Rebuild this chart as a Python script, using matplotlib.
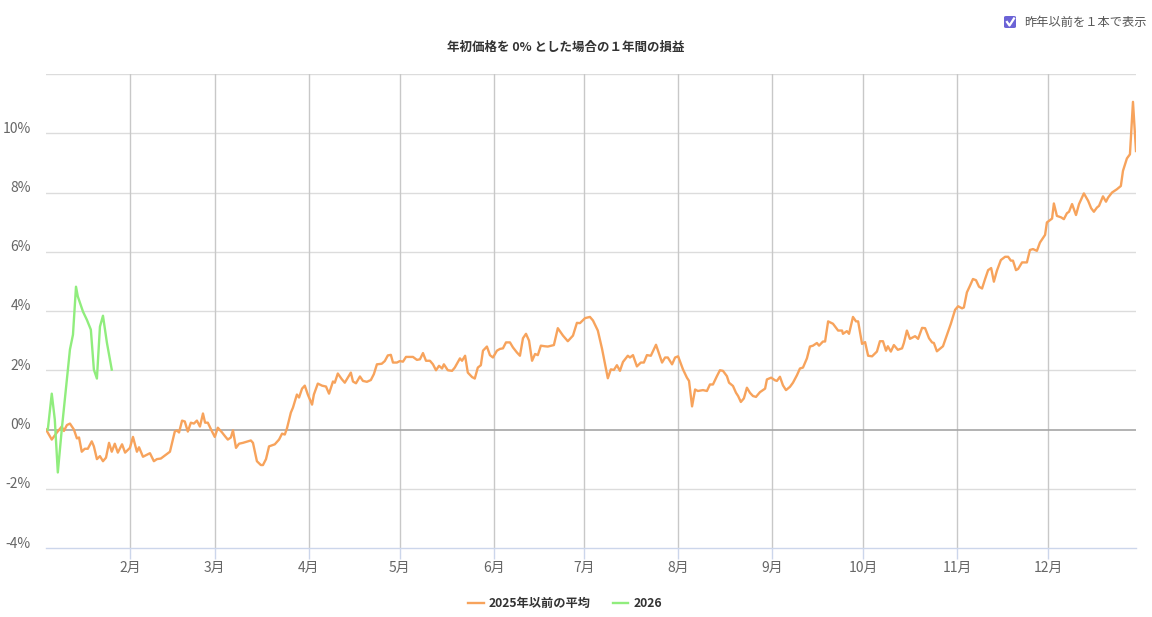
import numpy as np
import matplotlib.pyplot as plt
from matplotlib.lines import Line2D
from matplotlib.patches import FancyBboxPatch
import matplotlib.transforms as mtransforms

plt.rcParams['font.family'] = ['Noto Sans CJK JP', 'DejaVu Sans']

# day of year (Jan 1 = 0) and gain in %
avg_days = [3.3, 5.2, 6.9, 8.5, 9.2, 10.2, 11.2, 12.5, 13.5, 14.2, 15.1, 16.1, 17.1, 18.4, 19.1,
            20.1, 21.1, 22.1, 23.1, 24.1, 25.0, 26.0, 27.0, 28.4, 29.4, 31.0, 32.0, 33.3, 34.0, 35.3,
            36.6, 37.6, 38.9, 39.9, 41.2, 42.9, 44.2, 45.8, 46.5, 47.2, 48.2, 49.1, 50.1, 51.1, 52.1,
            53.1, 54.1, 55.1, 55.8, 56.7, 58.1, 59.0, 60.0, 61.4, 62.4, 63.3, 64.3, 65.0, 66.0, 67.0,
            68.3, 70.9, 71.6, 72.9, 74.2, 74.9, 75.9, 76.9, 78.8, 80.2, 81.2, 82.1, 82.8, 84.1, 84.8,
            86.1, 86.8, 87.8, 88.7, 89.7, 91.1, 91.7, 93.0, 94.4, 95.7, 96.7, 98.0, 98.6, 99.6, 100.9,
            101.9, 103.9, 104.6, 105.6, 106.9, 107.9, 109.2, 110.5, 111.5, 112.5, 114.1, 115.1, 116.1,
            117.1, 117.8, 119.1, 120.1, 121.1, 122.1, 124.4, 125.7, 126.7, 127.7, 128.7, 130.0, 131.0,
            132.0, 133.0, 134.0, 134.6, 135.9, 137.3, 138.2, 139.9, 140.6, 141.6, 142.5, 143.9, 144.8,
            145.8, 146.8, 147.5, 148.8, 149.8, 150.8, 152.1, 153.1, 154.1, 155.1, 156.4, 157.4, 158.7,
            159.7, 160.7, 161.7, 162.7, 163.7, 164.7, 165.6, 166.6, 167.9, 168.9, 170.9, 172.2, 173.9,
            175.5, 177.2, 178.5, 179.5, 181.2, 182.8, 183.8, 185.4, 186.8, 188.7, 189.7, 190.7, 191.7,
            192.7, 193.7, 195.3, 196.0, 197.0, 198.3, 199.6, 200.6, 201.6, 202.9, 204.6, 206.6, 207.6,
            208.5, 209.9, 210.9, 211.9, 213.5, 214.8, 215.5, 216.5, 217.5, 218.4, 220.1, 221.4, 222.4,
            223.4, 224.7, 225.7, 226.7, 228.0, 228.7, 230.0, 231.0, 231.7, 232.6, 233.6, 234.6, 235.6,
            236.6, 237.6, 238.9, 240.6, 241.2, 242.6, 243.9, 244.5, 245.5, 246.5, 247.5, 248.8, 249.8,
            251.1, 252.1, 253.1, 254.4, 255.4, 256.4, 257.7, 258.4, 259.7, 260.4, 261.4, 263.0, 264.7,
            266.0, 266.3, 267.6, 268.3, 269.6, 270.6, 271.3, 272.6, 273.6, 274.6, 275.9, 277.5, 278.5,
            279.5, 280.5, 281.1, 282.1, 283.1, 284.4, 285.8, 286.4, 287.4, 288.4, 290.1, 291.1, 292.4,
            293.4, 294.7, 295.7, 296.3, 297.3, 299.3, 300.6, 301.9, 303.3, 304.3, 305.6, 306.2, 307.2,
            308.2, 309.2, 310.2, 311.2, 312.2, 313.2, 314.2, 315.2, 316.1, 317.1, 318.4, 319.8, 320.8,
            321.7, 322.4, 323.4, 324.1, 325.4, 327.0, 328.0, 329.0, 330.3, 331.3, 333.0, 333.6, 335.3,
            335.9, 336.9, 338.3, 339.2, 340.2, 340.9, 341.9, 343.2, 344.2, 345.8, 347.2, 348.2, 349.1,
            350.1, 350.8, 352.1, 353.1, 353.8, 355.1, 356.7, 358.0, 358.7, 360.0, 361.0, 362.0, 363.0]
avg_vals = [0.0, -0.34, -0.1, 0.1, -0.05, 0.15, 0.2, 0.0, -0.3, -0.27, -0.75, -0.65, -0.65, -0.4, -0.57,
            -1.0, -0.9, -1.07, -0.95, -0.45, -0.75, -0.48, -0.78, -0.5, -0.78, -0.62, -0.25, -0.75, -0.6, -0.92,
            -0.85, -0.8, -1.07, -1.0, -0.98, -0.85, -0.75, -0.07, -0.03, -0.1, 0.3, 0.27, -0.07, 0.23, 0.2,
            0.3, 0.1, 0.54, 0.23, 0.23, -0.07, -0.25, 0.06, -0.1, -0.23, -0.34, -0.27, -0.03, -0.62, -0.48,
            -0.45, -0.37, -0.45, -1.07, -1.2, -1.2, -1.0, -0.57, -0.5, -0.34, -0.14, -0.17, 0.03, 0.57, 0.74,
            1.18, 1.08, 1.38, 1.48, 1.18, 0.84, 1.18, 1.55, 1.48, 1.45, 1.21, 1.62, 1.58, 1.89, 1.7,
            1.58, 1.92, 1.62, 1.56, 1.79, 1.64, 1.61, 1.67, 1.87, 2.2, 2.22, 2.31, 2.5,
            2.52, 2.26, 2.26, 2.31, 2.29, 2.45, 2.45, 2.35, 2.37, 2.58, 2.32, 2.32, 2.2,
            2.0, 2.15, 2.06, 2.2, 2.0, 1.98, 2.09, 2.4, 2.32, 2.49, 1.92, 1.77, 1.72,
            2.09, 2.17, 2.66, 2.8, 2.51, 2.43, 2.66, 2.72, 2.74, 2.94, 2.94, 2.77, 2.6,
            2.49, 3.08, 3.23, 3.0, 2.32, 2.55, 2.51, 2.83, 2.81, 2.8, 2.85, 3.42, 3.17,
            2.98, 3.17, 3.6, 3.59, 3.76, 3.8, 3.68, 3.34, 2.72, 1.73, 2.03, 2.01, 2.17,
            1.98, 2.28, 2.49, 2.43, 2.51, 2.13, 2.26, 2.26, 2.51, 2.49, 2.86, 2.26, 2.43,
            2.43, 2.2, 2.43, 2.47, 2.03, 1.75, 1.64, 0.78, 1.35, 1.3, 1.33, 1.3, 1.52,
            1.52, 1.8, 2.0, 1.98, 1.8, 1.58, 1.47, 1.24, 1.13, 0.93, 1.05, 1.41, 1.24,
            1.13, 1.1, 1.26, 1.38, 1.69, 1.75, 1.66, 1.64, 1.78, 1.49, 1.33, 1.44, 1.58,
            1.83, 2.06, 2.09, 2.4, 2.8, 2.83, 2.92, 2.83, 2.97, 2.97, 3.65, 3.57, 3.34,
            3.34, 3.23, 3.32, 3.23, 3.8, 3.65, 3.65, 2.89, 2.95, 2.49, 2.47, 2.63, 2.98,
            2.98, 2.66, 2.81, 2.63, 2.85, 2.69, 2.74, 2.92, 3.34, 3.06, 3.15, 3.06, 3.43,
            3.42, 3.08, 2.94, 2.92, 2.64, 2.81, 3.19, 3.57, 4.04, 4.16, 4.09, 4.12, 4.63,
            4.85, 5.08, 5.04, 4.82, 4.76, 5.08, 5.38, 5.45, 4.99, 5.36, 5.72, 5.83, 5.83,
            5.7, 5.7, 5.38, 5.42, 5.64, 5.64, 6.06, 6.09, 6.03, 6.31, 6.57, 6.99, 7.12,
            7.63, 7.21, 7.16, 7.1, 7.3, 7.35, 7.61, 7.24, 7.61, 7.97, 7.72, 7.47, 7.35,
            7.49, 7.55, 7.87, 7.69, 7.83, 8.0, 8.11, 8.22, 8.73, 9.15, 9.29, 11.06, 9.4]

cur_days = [3.9, 5.2, 6.2, 7.2, 8.5, 11.2, 12.2, 13.2, 13.8, 15.5, 16.8, 18.1, 19.1, 20.1, 21.1, 22.1, 23.4, 25.0]
cur_vals = [0.0, 1.21, 0.34, -1.45, 0.0, 2.7, 3.2, 4.82, 4.49, 3.98, 3.7, 3.37, 2.02, 1.72, 3.47, 3.84, 2.93, 2.02]

month_starts = [31, 59, 90, 120, 151, 181, 212, 243, 273, 304, 334]
month_labels = ['2月', '3月', '4月', '5月', '6月', '7月', '8月', '9月', '10月', '11月', '12月']
y_ticks = [-4, -2, 0, 2, 4, 6, 8, 10, 12]

fig = plt.figure(figsize=(11.52, 6.17), dpi=100)
ax = fig.add_axes([46 / 1152, 69 / 617, 1090 / 1152, 474 / 617])

ax.plot(avg_days, avg_vals, color='#f7a35c', lw=1.7, zorder=3, label='2025年以前の平均')
ax.plot(cur_days, cur_vals, color='#90ed7d', lw=1.7, zorder=4, label='2026')

ax.set_xlim(3.3, 363.0)
ax.set_ylim(-4, 12)

ax.set_yticks(y_ticks)
ax.set_yticklabels([f'{v}%' if v < 12 else '' for v in y_ticks])
ax.set_xticks(month_starts)
ax.set_xticklabels(month_labels)

for v in y_ticks:
    if v == 0:
        ax.axhline(v, color='#a6a6a6', lw=1.2, zorder=2)
    elif v > -4:
        ax.axhline(v, color='#dcdcdc', lw=1, zorder=1)
for d in month_starts:
    ax.axvline(d, color='#c8c8c8', lw=1, zorder=1)

for s in ['top', 'right', 'left']:
    ax.spines[s].set_visible(False)
ax.spines['bottom'].set_color('#ccd6eb')
ax.spines['bottom'].set_linewidth(1)

ax.tick_params(axis='y', length=0, pad=14, labelsize=10, labelcolor='#666666')
ax.tick_params(axis='x', length=8, width=1, color='#ccd6eb', pad=1.5, labelsize=10, labelcolor='#666666')

offset = mtransforms.ScaledTranslation(-15 / 100, 6 / 100, fig.dpi_scale_trans)
for lab in ax.get_yticklabels():
    lab.set_transform(ax.get_yaxis_transform() + offset)
    lab.set_x(0)
    lab.set_horizontalalignment('right')

fig.text(566 / 1152, 1 - 47 / 617, '年初価格を 0% とした場合の１年間の損益', ha='center', va='center',
         fontsize=9, fontweight='bold', color='#333333')

# legend
leg = ax.legend(loc='upper center', bbox_to_anchor=(0.476, -0.08), ncol=2, frameon=False,
                fontsize=8.8, handlelength=1.3, columnspacing=1.8, handletextpad=0.4)
for t in leg.get_texts():
    t.set_fontweight('bold')
    t.set_color('#333333')

# checkbox
cb = FancyBboxPatch((1004 / 1152, 1 - 28 / 617), 12 / 1152, 12 / 617,
                    boxstyle='round,pad=0,rounding_size=0.002', transform=fig.transFigure,
                    facecolor='#6b63d6', edgecolor='none')
fig.patches.append(cb)
fig.lines.append(Line2D([1007 / 1152, 1009.5 / 1152, 1014 / 1152],
                        [1 - 22 / 617, 1 - 25.5 / 617, 1 - 18.5 / 617],
                        transform=fig.transFigure, color='white', lw=1.6))
fig.text(1024 / 1152, 1 - 22 / 617, '昨年以前を１本で表示', ha='left', va='center',
         fontsize=8.8, color='#555555')

fig.savefig('out.png', dpi=100, facecolor='white')
